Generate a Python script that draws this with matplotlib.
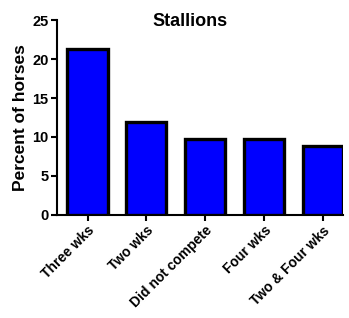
import matplotlib
matplotlib.use("Agg")
import matplotlib.pyplot as plt

plt.rcParams['font.family'] = ['Liberation Sans', 'DejaVu Sans']
plt.rcParams['font.weight'] = 'bold'

groups = ["Three wks", "Two wks", "Did not compete", "Four wks", "Two & Four wks"]
percent = [21.3, 11.9, 9.8, 9.8, 8.8]
y_ticks = [0, 5, 10, 15, 20, 25]

fig = plt.figure(figsize=(3.49, 3.18), dpi=100)
ax = fig.add_axes([0.163, 0.324, 0.82, 0.613])

x = list(range(len(groups)))
ax.bar(x, percent, width=0.68, color='#0000ff', edgecolor='black', linewidth=2.4, zorder=3)

ax.set_xlim(-0.52, 4.34)
ax.set_ylim(0, 25)
ax.set_yticks(y_ticks)
ax.set_yticklabels([str(t) for t in y_ticks], fontsize=10.5, fontweight='bold')
ax.set_xticks(x)
ax.set_xticklabels(groups, rotation=45, ha='right', rotation_mode='anchor',
                   fontsize=10, fontweight='bold')

for s in ['top', 'right']:
    ax.spines[s].set_visible(False)
for s in ['left', 'bottom']:
    ax.spines[s].set_linewidth(1.5)
ax.tick_params(axis='both', width=1.5, length=4, direction='out', pad=2)

ax.set_ylabel("Percent of horses", fontsize=12.5, fontweight='bold', labelpad=3)
fig.text(190 / 349, 1 - 21 / 318, "Stallions", ha='center', va='center',
         fontsize=13, fontweight='bold')

fig.savefig("out.png", dpi=100)
